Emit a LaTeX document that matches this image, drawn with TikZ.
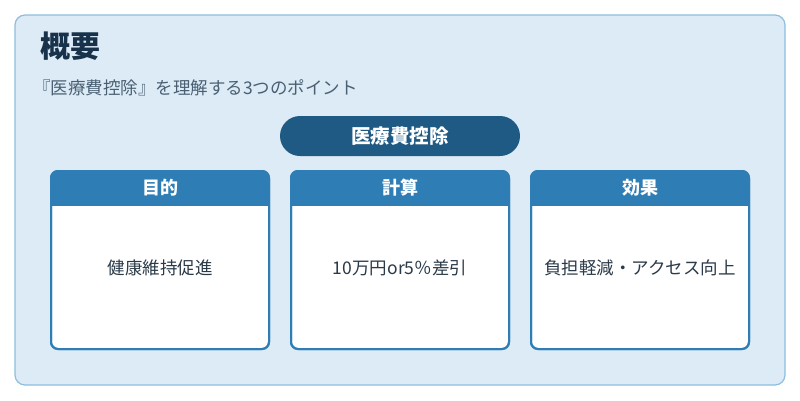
\documentclass[tikz,border=0pt]{standalone}
\usepackage{fontspec}
\setmainfont{Noto Sans CJK JP}
\definecolor{bgc}{HTML}{DCEBF6}
\definecolor{bdc}{HTML}{8DBEDF}
\definecolor{pillc}{HTML}{1F5A85}
\definecolor{hdc}{HTML}{2E7DB5}
\definecolor{titc}{HTML}{17324A}
\definecolor{subc}{HTML}{4A6072}
\definecolor{txc}{HTML}{2A3A48}
\begin{document}
\begin{tikzpicture}[x=1pt,y=-1pt,
  card/.style={draw=hdc,line width=2pt,fill=white,rounded corners=7pt,minimum width=218pt,minimum height=178pt,inner sep=0pt},
  hd/.style={text=white,font=\bfseries\fontsize{18}{21}\selectfont},
  body/.style={text=txc,font=\fontsize{17.5}{21}\selectfont}]
\useasboundingbox (0,0) rectangle (800,400);
\fill[white] (0,0) rectangle (800,400);
\draw[bdc,fill=bgc,line width=1.2pt,rounded corners=10pt] (15,15) rectangle (785,385);
\node[anchor=west,text=titc,font=\bfseries\fontsize{30}{34}\selectfont,inner sep=0pt] (title) at (40,46) {概要};
\node[anchor=west,text=subc,font=\fontsize{17.5}{20}\selectfont,inner sep=0pt] (sub) at (33,88) {『医療費控除』を理解する3つのポイント};
\node[fill=pillc,rounded corners=20pt,minimum width=240pt,minimum height=40pt,text=white,font=\bfseries\fontsize{19.5}{22}\selectfont] (pill) at (400,136) {医療費控除};
\foreach \n/\x/\h/\b in {c1/160/目的/健康維持促進, c2/400/計算/10万円or5％差引, c3/640/効果/負担軽減・アクセス向上}{
  \node[card] (\n) at (\x,260) {};
  \begin{scope}
    \clip[rounded corners=7pt] (\x-109,171) rectangle (\x+109,349);
    \fill[hdc] (\x-110,170) rectangle (\x+110,206);
  \end{scope}
  \draw[hdc,line width=2pt,rounded corners=7pt] (\x-109,171) rectangle (\x+109,349);
  \node[hd] (\n h) at (\x,188) {\h};
  \node[body] (\n b) at (\x,268) {\b};
}
\end{tikzpicture}
\end{document}
